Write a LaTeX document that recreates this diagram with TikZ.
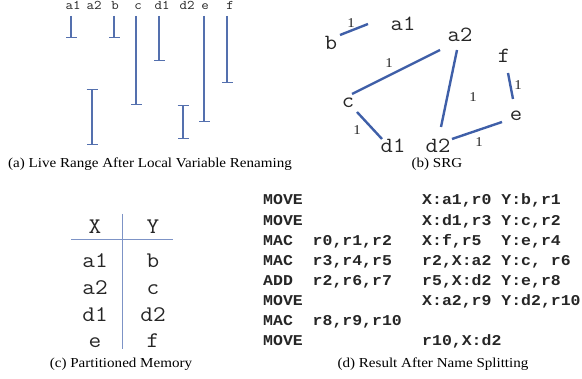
\documentclass[tikz,border=0pt]{standalone}
\usepackage{fontspec}
\setmainfont{Liberation Serif}[FakeStretch=1.1]
\setmonofont{Liberation Mono}[FakeStretch=1.1]
\newfontfamily\lmtt{Latin Modern Mono}[FakeStretch=1.1]
\usetikzlibrary{arrows.meta}
\definecolor{lr}{HTML}{5470AE}
\definecolor{eg}{HTML}{3F5FA8}
\definecolor{tb}{HTML}{7D93C6}
\definecolor{tx}{HTML}{262626}
\begin{document}
\begin{tikzpicture}[x=1pt,y=-1pt,
  lbla/.style={font=\lmtt\fontsize{13.2}{13.2}\selectfont, text=tx, inner sep=0pt, text height=7.5pt, text depth=0pt, anchor=base},
  lblb/.style={font=\lmtt\fontsize{21.7}{22}\selectfont, text=tx, inner sep=0pt, anchor=base},
  lblc/.style={font=\lmtt\fontsize{22.3}{23}\selectfont, text=tx, inner sep=0pt, anchor=base},
  wt/.style={font=\fontsize{13.5}{14}\selectfont, text=tx, inner sep=0pt},
  capt/.style={font=\fontsize{13.7}{14}\selectfont, inner sep=0pt, anchor=base},
  code/.style={font=\ttfamily\bfseries\fontsize{15}{15}\selectfont, text=tx, inner sep=0pt, anchor=base west},
  live/.style={draw=lr, line width=1.3pt},
  endb/.style={-{Bar[width=11pt]}},
  bothb/.style={{Bar[width=11pt]}-{Bar[width=11pt]}},
  srgedge/.style={draw=eg, line width=2.4pt},
  tline/.style={draw=tb, line width=1pt}]
\useasboundingbox (0,0) rectangle (582,379);

% (a) live ranges
\node[lbla] (la1) at (73,10) {a1};
\node[lbla] (la2) at (94,10) {a2};
\node[lbla] (lb) at (115,10) {b};
\node[lbla] (lc) at (138,10) {c};
\node[lbla] (ld1) at (162,10) {d1};
\node[lbla] (ld2) at (187,10) {d2};
\node[lbla] (le) at (205,10) {e};
\node[lbla] (lf) at (230,10) {f};
\draw[live,endb] (71,16) -- (71,38);
\draw[live,endb] (114,16) -- (114,38);
\draw[live,endb] (136,16) -- (136,105);
\draw[live,endb] (159,16) -- (159,61);
\draw[live,endb] (227,16) -- (227,83);
\draw[live,endb] (204,16) -- (204,122);
\draw[live,bothb] (92,89) -- (92,145);
\draw[live,bothb] (183,105) -- (183,139);
\node[capt] (capa) at (150,168) {(a) Live Range After Local Variable Renaming};

% (b) SRG
\node[lblb] (b) at (331,50) {b};
\node[lblb] (a1) at (403,31) {a1};
\node[lblb] (a2) at (460,42) {a2};
\node[lblb] (f) at (504,63) {f};
\node[lblb] (c) at (348,108) {c};
\node[lblb] (e) at (516,121) {e};
\node[lblb] (d1) at (393,153) {d1};
\node[lblb] (d2) at (438,153) {d2};
\draw[srgedge] ([shift={(9,-15)}]b.base) -- ([shift={(-35,-7)}]a1.base);
\draw[srgedge] ([shift={(4,-14)}]c.base) -- ([shift={(-20,8)}]a2.base);
\draw[srgedge] ([shift={(-3,8)}]a2.base) -- ([shift={(3,-26)}]d2.base);
\draw[srgedge] ([shift={(4,10)}]f.base) -- ([shift={(-3,-22)}]e.base);
\draw[srgedge] ([shift={(14,-14)}]d2.base) -- ([shift={(-14,1)}]e.base);
\draw[srgedge] ([shift={(9,4)}]c.base) -- ([shift={(-11,-14)}]d1.base);
\node[wt] (w1) at (351,23) {1};
\node[wt] (w2) at (389,63) {1};
\node[wt] (w3) at (473,97) {1};
\node[wt] (w4) at (518,85) {1};
\node[wt] (w5) at (479,142) {1};
\node[wt] (w6) at (357,130) {1};
\node[capt] (capb) at (437,168) {(b) SRG};

% (c) partitioned memory
\node[lblc] (hx) at (95,234) {X};
\node[lblc] (hy) at (153,234) {Y};
\draw[tline] (71,240) -- (173,240);
\draw[tline] (122,214) -- (122,349);
\node[lblc] (x1) at (95,268) {a1};
\node[lblc] (y1) at (153,268) {b};
\node[lblc] (x2) at (95,295) {a2};
\node[lblc] (y2) at (153,295) {c};
\node[lblc] (x3) at (95,322) {d1};
\node[lblc] (y3) at (153,322) {d2};
\node[lblc] (x4) at (95,348) {e};
\node[lblc] (y4) at (153,348) {f};
\node[capt] (capc) at (121,368) {(c) Partitioned Memory};

% (d) code
\node[code] (r1a) at (263,205) {MOVE};
\node[code] (r1c) at (422,205) {X:a1,r0~Y:b,r1};
\node[code] (r2a) at (263,225.1) {MOVE};
\node[code] (r2c) at (422,225.1) {X:d1,r3~Y:c,r2};
\node[code] (r3a) at (263,245.2) {MAC};
\node[code] (r3b) at (312.5,245.2) {r0,r1,r2};
\node[code] (r3c) at (422,245.2) {X:f,r5~~Y:e,r4};
\node[code] (r4a) at (263,265.3) {MAC};
\node[code] (r4b) at (312.5,265.3) {r3,r4,r5};
\node[code] (r4c) at (422,265.3) {r2,X:a2~Y:c,~r6};
\node[code] (r5a) at (263,285.4) {ADD};
\node[code] (r5b) at (312.5,285.4) {r2,r6,r7};
\node[code] (r5c) at (422,285.4) {r5,X:d2~Y:e,r8};
\node[code] (r6a) at (263,305.5) {MOVE};
\node[code] (r6c) at (422,305.5) {X:a2,r9~Y:d2,r10};
\node[code] (r7a) at (263,325.6) {MAC};
\node[code] (r7b) at (312.5,325.6) {r8,r9,r10};
\node[code] (r8a) at (263,345.7) {MOVE};
\node[code] (r8c) at (422,345.7) {r10,X:d2};
\node[capt] (capd) at (433,368) {(d) Result After Name Splitting};
\end{tikzpicture}
\end{document}
